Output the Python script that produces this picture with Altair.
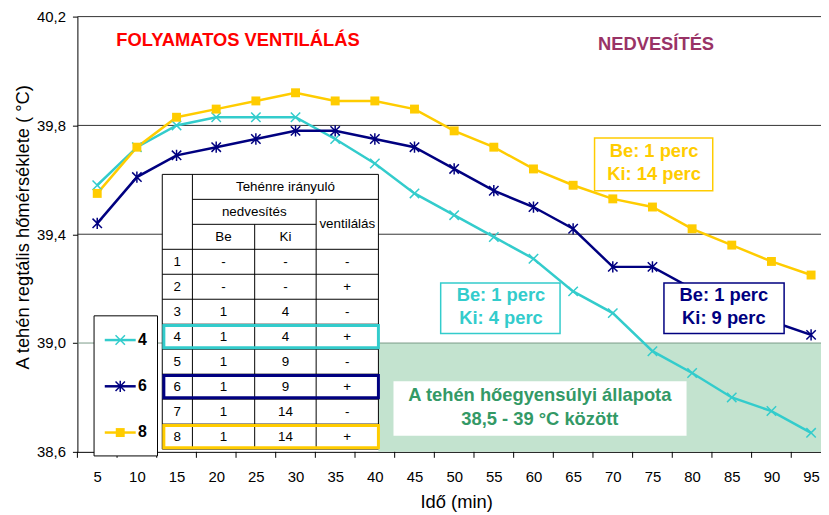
import altair as alt
import pandas as pd

# ---------------- data ----------------
minutes = [5, 10, 15, 20, 25, 30, 35, 40, 45, 50, 55, 60, 65, 70, 75, 80, 85, 90, 95]
series_names = ["4", "6", "8"]
temp_4 = [39.58, 39.72, 39.80, 39.83, 39.83, 39.83, 39.75, 39.66, 39.55, 39.47,
          39.39, 39.31, 39.19, 39.11, 38.97, 38.89, 38.80, 38.75, 38.67]
temp_6 = [39.44, 39.61, 39.69, 39.72, 39.75, 39.78, 39.78, 39.75, 39.72, 39.64,
          39.56, 39.50, 39.42, 39.28, 39.28, 39.20, 39.14, 39.08, 39.03]
temp_8 = [39.55, 39.72, 39.83, 39.86, 39.89, 39.92, 39.89, 39.89, 39.86, 39.78,
          39.72, 39.64, 39.58, 39.53, 39.50, 39.42, 39.36, 39.30, 39.25]
series_colors = ["#33CCCC", "#000080", "#FFCC00"]

y_ticks = [38.6, 39.0, 39.4, 39.8, 40.2]
grid_levels = [39.0, 39.4, 39.8, 40.2]
grid_colors = ["#7a9a88", "#333333", "#333333", "#333333"]

# table content
table_nums = ["1", "2", "3", "4", "5", "6", "7", "8"]
table_be = ["-", "-", "1", "1", "1", "1", "1", "1"]
table_ki = ["-", "-", "4", "4", "9", "9", "14", "14"]
table_vent = ["-", "+", "-", "+", "-", "+", "-", "+"]
highlight_rows = [4, 6, 8]

# ---------------- layout (data units) ----------------
X_MIN, X_MAX = 2.5, 96.25
Y_MIN, Y_MAX = 38.6, 40.2
X_SCALE = alt.Scale(domain=[X_MIN, X_MAX], nice=False, zero=False)
Y_SCALE = alt.Scale(domain=[Y_MIN, Y_MAX], nice=False, zero=False)
x_tick_marks = [2.5 + 5 * i for i in range(19)]

TC = [13.2, 17.0, 24.85, 32.6, 40.45]   # table column edges (minutes)
T_TOP = 39.62
RH = 0.0918


def ry(k):
    return T_TOP - k * RH


FONT = "Liberation Sans"

X_AXIS = alt.Axis(
    values=minutes, format="d", ticks=False, labelPadding=18,
    labelFontSize=15, labelColor="black", labelFont=FONT, grid=False,
    domainColor="black", title="Idő (min)", titleFont=FONT, titleFontSize=18.5,
    titleFontWeight="normal", titleColor="black", titlePadding=8, titleX=382)
Y_AXIS = alt.Axis(
    values=y_ticks, labelExpr="replace(format(datum.value, '.1f'), '.', ',')",
    tickSize=5, tickColor="black", labelPadding=7, labelFontSize=15,
    labelColor="black", labelFont=FONT, grid=False, domainColor="black",
    title="A tehén regtális hőmérséklete ( °C)", titleFont=FONT,
    titleFontSize=18.5, titleFontWeight="normal", titleColor="black",
    titlePadding=4, titleY=212)


# every layer carries the identical axis definition so that they merge into one
def X(field):
    return alt.X(field, type="quantitative", scale=X_SCALE, axis=X_AXIS)


def Y(field):
    return alt.Y(field, type="quantitative", scale=Y_SCALE, axis=Y_AXIS)


def rects(df, **kw):
    return alt.Chart(df).mark_rect(**kw).encode(
        x=X("x0"), x2="x1", y=Y("y0"), y2="y1")


def texts(df, **kw):
    base = dict(font=FONT, align="center", baseline="middle")
    base.update(kw)
    return alt.Chart(df).mark_text(**base).encode(
        x=X("x"), y=Y("y"), text="label:N")


# ---------------- series ----------------
df = pd.DataFrame({
    "t": minutes * 3,
    "temp": temp_4 + temp_6 + temp_8,
    "s": ["4"] * len(minutes) + ["6"] * len(minutes) + ["8"] * len(minutes),
})

X_PATH = "M-1,-1L1,1M-1,1L1,-1"
ASTER_PATH = "M-1,-1L1,1M-1,1L1,-1M0,-1.2L0,1.2"

lines = alt.Chart(df).mark_line(strokeWidth=2.5).encode(
    x=X("t"), y=Y("temp"),
    color=alt.Color("s:N", scale=alt.Scale(domain=series_names, range=series_colors),
                    legend=None),
)

pts4 = alt.Chart(df).transform_filter(alt.datum.s == "4").mark_point(
    shape=X_PATH, size=90, filled=False, strokeWidth=1.5, color=series_colors[0],
    opacity=1).encode(x=X("t"), y=Y("temp"))
pts6 = alt.Chart(df).transform_filter(alt.datum.s == "6").mark_point(
    shape=ASTER_PATH, size=90, filled=False, strokeWidth=1.5, color=series_colors[1],
    opacity=1).encode(x=X("t"), y=Y("temp"))
pts8 = alt.Chart(df).transform_filter(alt.datum.s == "8").mark_point(
    shape="square", size=81, filled=True, color=series_colors[2],
    opacity=1).encode(x=X("t"), y=Y("temp"))

# ---------------- background: shading + grid ----------------
shade = rects(pd.DataFrame({"x0": [TC[-1]], "x1": [X_MAX], "y0": [38.6], "y1": [39.0]}),
              fill="#c3e3cf", stroke=None)

grid = alt.Chart(pd.DataFrame({"lvl": grid_levels, "c": grid_colors})).mark_rule(
    strokeWidth=1).encode(y=Y("lvl"), color=alt.Color("c:N", scale=None))

xticks = alt.Chart(pd.DataFrame({"b": x_tick_marks})).mark_rule(
    color="black", strokeWidth=1).encode(x=X("b"), y=alt.value(439), y2=alt.value(445))

# ---------------- table ----------------
table_bg = rects(pd.DataFrame({"x0": [TC[0]], "x1": [TC[-1]], "y0": [ry(11)], "y1": [ry(0)]}),
                 fill="white", stroke=None)

segs = []
segs.append((TC[0], TC[4], ry(0), ry(0)))
segs.append((TC[1], TC[4], ry(1), ry(1)))
segs.append((TC[1], TC[3], ry(2), ry(2)))
for k in range(3, 12):
    segs.append((TC[0], TC[4], ry(k), ry(k)))
segs.append((TC[0], TC[0], ry(0), ry(11)))
segs.append((TC[1], TC[1], ry(0), ry(11)))
segs.append((TC[2], TC[2], ry(2), ry(11)))
segs.append((TC[3], TC[3], ry(1), ry(11)))
segs.append((TC[4], TC[4], ry(0), ry(11)))
seg_df = pd.DataFrame(segs, columns=["x0", "x1", "y0", "y1"])
table_lines = alt.Chart(seg_df).mark_rule(color="black", strokeWidth=1).encode(
    x=X("x0"), x2="x1", y=Y("y0"), y2="y1")

mid = lambda a, b: (a + b) / 2
hdr = pd.DataFrame({
    "x": [mid(TC[1], TC[4]), mid(TC[1], TC[3]), mid(TC[1], TC[2]), mid(TC[2], TC[3]),
          mid(TC[3], TC[4])],
    "y": [ry(0.5), ry(1.5), ry(2.5), ry(2.5), ry(2.0)],
    "label": ["Tehénre irányuló", "nedvesítés", "Be", "Ki", "ventilálás"],
})
cells = []
for i in range(8):
    yy = ry(3 + i + 0.5)
    cells.append((mid(TC[0], TC[1]), yy, table_nums[i]))
    cells.append((mid(TC[1], TC[2]), yy, table_be[i]))
    cells.append((mid(TC[2], TC[3]), yy, table_ki[i]))
    cells.append((mid(TC[3], TC[4]), yy, table_vent[i]))
cell_df = pd.DataFrame(cells, columns=["x", "y", "label"])
table_text = texts(pd.concat([hdr, cell_df]), fontSize=13.5, color="black")

hl = []
for r, c in zip(highlight_rows, series_colors):
    k = 2 + r
    hl.append(rects(pd.DataFrame({"x0": [TC[0] + 0.2], "x1": [TC[4]],
                                  "y0": [ry(k + 1) + 0.005], "y1": [ry(k) - 0.005]}),
                    filled=False, stroke=c, strokeWidth=3))

# ---------------- legend ----------------
LEG_X0, LEG_X1 = 4.6, 12.6
LEG_Y0, LEG_Y1 = 38.585, 39.10
leg_ys = [39.011, 38.841, 38.671]
leg_box = rects(pd.DataFrame({"x0": [LEG_X0], "x1": [LEG_X1], "y0": [LEG_Y0], "y1": [LEG_Y1]}),
                fill="white", stroke="black", strokeWidth=1)
leg_df = pd.DataFrame({"x0": [5.95] * 3, "x1": [9.85] * 3, "xm": [7.9] * 3,
                       "xl": [10.15] * 3, "y": leg_ys, "s": series_names,
                       "c": series_colors, "label": series_names})
leg_lines = alt.Chart(leg_df).mark_rule(strokeWidth=2.5).encode(
    x=X("x0"), x2="x1", y=Y("y"), color=alt.Color("c:N", scale=None))
leg_p4 = alt.Chart(leg_df.iloc[[0]]).mark_point(
    shape=X_PATH, size=90, filled=False, strokeWidth=1.5, color=series_colors[0],
    opacity=1).encode(x=X("xm"), y=Y("y"))
leg_p6 = alt.Chart(leg_df.iloc[[1]]).mark_point(
    shape=ASTER_PATH, size=90, filled=False, strokeWidth=1.5, color=series_colors[1],
    opacity=1).encode(x=X("xm"), y=Y("y"))
leg_p8 = alt.Chart(leg_df.iloc[[2]]).mark_point(
    shape="square", size=81, filled=True, color=series_colors[2],
    opacity=1).encode(x=X("xm"), y=Y("y"))
leg_text = alt.Chart(leg_df).mark_text(
    font=FONT, fontSize=16, fontWeight="bold", align="left", baseline="middle",
    color="black").encode(x=X("xl"), y=Y("y"), text="label:N")

# ---------------- annotations ----------------
box_y = rects(pd.DataFrame({"x0": [67.7], "x1": [82.6], "y0": [39.56], "y1": [39.754]}),
              fill="white", stroke="#FFCC00", strokeWidth=1.5)
box_c = rects(pd.DataFrame({"x0": [48.3], "x1": [63.35], "y0": [39.035], "y1": [39.221]}),
              fill="white", stroke="#33CCCC", strokeWidth=1.5)
box_n = rects(pd.DataFrame({"x0": [76.45], "x1": [91.6], "y0": [39.035], "y1": [39.221]}),
              fill="white", stroke="#000080", strokeWidth=1.5)
box_g = rects(pd.DataFrame({"x0": [42.35], "x1": [79.3], "y0": [38.659], "y1": [38.86]}),
              fill="white", stroke=None)

txt_y = texts(pd.DataFrame({"x": [75.2, 75.2], "y": [39.706, 39.621],
                            "label": ["Be: 1 perc", "Ki: 14 perc"]}),
              fontSize=18.5, fontWeight="bold", color="#FFCC00")
txt_c = texts(pd.DataFrame({"x": [55.9, 55.9], "y": [39.175, 39.092],
                            "label": ["Be: 1 perc", "Ki: 4 perc"]}),
              fontSize=18.5, fontWeight="bold", color="#33CCCC")
txt_n = texts(pd.DataFrame({"x": [84.0, 84.0], "y": [39.175, 39.092],
                            "label": ["Be: 1 perc", "Ki: 9 perc"]}),
              fontSize=18.5, fontWeight="bold", color="#000080")
txt_g = texts(pd.DataFrame({"x": [60.8, 60.8], "y": [38.81, 38.721],
                            "label": ["A tehén hőegyensúlyi állapota", "38,5 - 39 °C között"]}),
              fontSize=18.5, fontWeight="bold", color="#339966")
txt_red = texts(pd.DataFrame({"x": [22.74], "y": [40.114], "label": ["FOLYAMATOS VENTILÁLÁS"]}),
                fontSize=18.5, fontWeight="bold", color="#FF0000")
txt_pur = texts(pd.DataFrame({"x": [75.45], "y": [40.099], "label": ["NEDVESÍTÉS"]}),
                fontSize=18.5, fontWeight="bold", color="#993366")

chart = alt.layer(
    shade, grid, xticks, lines, pts4, pts6, pts8,
    table_bg, table_lines, table_text, *hl,
    leg_box, leg_lines, leg_p4, leg_p6, leg_p8, leg_text,
    box_g, txt_g, box_y, txt_y, box_c, txt_c, box_n, txt_n, txt_red, txt_pur,
).properties(
    width=750, height=439,
    autosize=alt.AutoSizeParams(type="none"),
    padding={"left": 70, "top": 6.5, "right": 0, "bottom": 60},
    background="white",
).configure_view(stroke=None)

chart.save("out.html", embed_options={"renderer": "svg", "actions": False})
